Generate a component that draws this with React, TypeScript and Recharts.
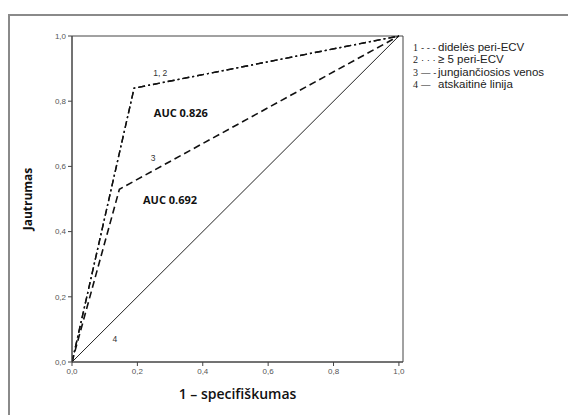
import React from "react";
import { LineChart, Line, XAxis, YAxis, ReferenceArea, ReferenceDot } from "recharts";

// ROC curves (1 - specificity, sensitivity)
const fpr12 = [0, 0.19, 1];
const tpr12 = [0, 0.84, 1];
const fpr3 = [0, 0.145, 1];
const tpr3 = [0, 0.53, 1];
const fprRef = [0, 1];
const tprRef = [0, 1];
const axisTicks = [0, 0.2, 0.4, 0.6, 0.8, 1];

const notes = [
    { x: 0.27, y: 0.885, text: "1, 2", bold: false },
    { x: 0.333, y: 0.764, text: "AUC 0.826", bold: true },
    { x: 0.248, y: 0.626, text: "3", bold: false },
    { x: 0.3, y: 0.5, text: "AUC 0.692", bold: true },
    { x: 0.131, y: 0.07, text: "4", bold: false },
];

const legendNums = ["1", "2", "3", "4"];
const legendMarks = ["- - -", "\u00b7 \u00b7 \u00b7", "\u2014 -", "\u2014"];
const legendNames = ["didelės peri-ECV", "\u2265 5 peri-ECV", "jungiančiosios venos", "atskaitinė linija"];

const toPts = (xs, ys) => xs.map((x, i) => ({ x, y: ys[i] }));

const fmt = (v) => v.toFixed(1).replace(".", ",");

const tickStyle = { fontSize: 8, fill: "#555", fontFamily: "Liberation Sans, Arial, sans-serif" };

const App = () => {
    return (
        <div style={{ position: "absolute", left: 8, top: 14, width: 570, height: 410, borderLeft: "2px solid #8a8a8a", borderTop: "2px solid #8a8a8a" }}>
            <LineChart width={558} height={399} margin={{ top: 20, right: 165, left: 0, bottom: 8 }}>
                <XAxis type="number" dataKey="x" domain={[0, 1.0125]} ticks={axisTicks} tickFormatter={fmt}
                    allowDataOverflow height={45} tickSize={4} stroke="#444" tick={tickStyle}
                    label={{ value: "1 \u2013 specifiškumas", position: "insideBottom", offset: 8,
                        style: { fontSize: 14, fontWeight: 600, fill: "#111", fontFamily: "Open Sans, sans-serif" } }} />
                <YAxis type="number" dataKey="y" domain={[0, 1]} ticks={axisTicks} tickFormatter={fmt}
                    width={62} tickSize={4} stroke="#444" tick={tickStyle}
                    label={{ value: "Jautrumas", angle: -90, position: "insideLeft", offset: 18,
                        style: { textAnchor: "middle", fontSize: 12, fontWeight: 700, fill: "#111", fontFamily: "Open Sans, sans-serif" } }} />
                <ReferenceArea x1={0} x2={1.0125} y1={0} y2={1} fill="none" stroke="#444" strokeWidth={1} />
                <Line data={toPts(fprRef, tprRef)} dataKey="y" stroke="#222" strokeWidth={1} dot={false} isAnimationActive={false} />
                <Line data={toPts(fpr3, tpr3)} dataKey="y" stroke="#111" strokeWidth={1.6} strokeDasharray="7 4" dot={false} isAnimationActive={false} />
                <Line data={toPts(fpr12, tpr12)} dataKey="y" stroke="#111" strokeWidth={1.4} strokeDasharray="7 3 2 3" dot={false} isAnimationActive={false} />
                <Line data={toPts(fpr12, tpr12)} dataKey="y" stroke="#111" strokeWidth={1.4} strokeDasharray="7 3 2 3" dot={false} isAnimationActive={false} />
                {notes.map((n, i) => (
                    <ReferenceDot key={i} x={n.x} y={n.y} r={0}
                        shape={(p) => (
                            <text x={p.cx} y={p.cy} textAnchor="middle" dominantBaseline="central"
                                fontSize={n.bold ? 11 : 8.5} fontWeight={n.bold ? 700 : 400}
                                fontFamily={n.bold ? "Open Sans, sans-serif" : "Liberation Sans, Arial, sans-serif"}
                                fill={n.bold ? "#111" : "#333"}>{n.text}</text>
                        )} />
                ))}
            </LineChart>
            <div style={{ position: "absolute", left: 403, top: 25, fontSize: 11.5, lineHeight: "12.4px", color: "#222", fontFamily: "Liberation Sans, Arial, sans-serif" }}>
                {legendNames.map((name, i) => (
                    <div key={i} style={{ whiteSpace: "nowrap", height: 12.4 }}>
                        <span style={{ fontFamily: "Liberation Serif, serif", fontSize: 10 }}>{legendNums[i]}</span>
                        <span style={{ display: "inline-block", width: 17, paddingLeft: 3, fontSize: 9.5 }}>{legendMarks[i]}</span>
                        <span>{name}</span>
                    </div>
                ))}
            </div>
        </div>
    );
};

export default App;
